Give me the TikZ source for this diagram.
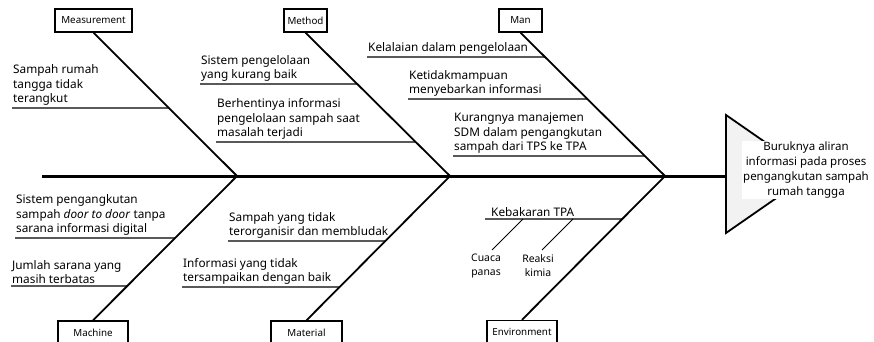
\documentclass[tikz,border=0pt]{standalone}
\usepackage{fontspec}
\setmainfont{Noto Sans}

\begin{document}
\begin{tikzpicture}[x=1pt,y=-1pt,
  catBox/.style={draw,line width=1.4pt,minimum height=23pt,inner sep=0pt,font=\fontsize{9.8}{11}\selectfont},
  causeText/.style={anchor=south west,align=left,inner xsep=1pt,inner ysep=2pt,font=\fontsize{11.8}{14.5}\selectfont},
  bone/.style={line width=1.8pt},
  twig/.style={line width=1.2pt}]
\useasboundingbox (0,0) rectangle (874,341);
% head of the fish
\coordinate (headTop) at (726,115);
\coordinate (headBot) at (726,233);
\coordinate (headTip) at (811,174);
\draw[line width=1.8pt,fill=black!5] (headTop) -- (headTip) -- (headBot) -- cycle;
\node[fill=white,align=center,inner sep=1pt,font=\fontsize{11.5}{15}\selectfont] (effect) at (806,170) {Buruknya aliran\\informasi pada proses\\pengangkutan sampah\\rumah tangga};
% spine
\coordinate (tail) at (42,176);
\coordinate (neck) at (726,176);
\coordinate (jA) at (237,176);
\coordinate (jB) at (450,176);
\coordinate (jC) at (665,176);
\draw[line width=3pt] (tail) -- (neck);
% categories
\node[catBox,minimum width=77pt] (measurement) at (93.5,20.5) {Measurement};
\node[catBox,minimum width=43pt] (method) at (305.5,20.5) {Method};
\node[catBox,minimum width=43pt] (man) at (520.5,20.5) {Man};
\node[catBox,minimum width=70pt] (machine) at (93,332.5) {Machine};
\node[catBox,minimum width=71pt] (material) at (306.5,332.5) {Material};
\node[catBox,minimum width=70pt] (environment) at (522,332) {Environment};
\draw[bone] (measurement.south) -- (jA);
\draw[bone] (method.south) -- (jB);
\draw[bone] (man.south) -- (jC);
\draw[bone] (machine.north) -- (jA);
\draw[bone] (material.north) -- (jB);
\draw[bone] (environment.north) -- (jC);
% measurement
\node[causeText] (measA) at (12,108) {Sampah rumah\\tangga tidak\\terangkut};
\draw[twig] (measA.south west) -- (intersection of measA.south west--measA.south east and measurement.south--jA);
% method
\node[causeText] (methA) at (200,84) {Sistem pengelolaan\\yang kurang baik};
\node[causeText] (methB) at (216,142) {Berhentinya informasi\\pengelolaan sampah saat\\masalah terjadi};
\draw[twig] (methA.south west) -- (intersection of methA.south west--methA.south east and method.south--jB);
\draw[twig] (methB.south west) -- (intersection of methB.south west--methB.south east and method.south--jB);
% man
\node[causeText] (manA) at (367,57) {Kelalaian dalam pengelolaan};
\node[causeText] (manB) at (408,99) {Ketidakmampuan\\menyebarkan informasi};
\node[causeText] (manC) at (453,156) {Kurangnya manajemen\\SDM dalam pengangkutan\\sampah dari TPS ke TPA};
\draw[twig] (manA.south west) -- (intersection of manA.south west--manA.south east and man.south--jC);
\draw[twig] (manB.south west) -- (intersection of manB.south west--manB.south east and man.south--jC);
\draw[twig] (manC.south west) -- (intersection of manC.south west--manC.south east and man.south--jC);
% machine
\node[causeText] (machA) at (15,238) {Sistem pengangkutan\\sampah \textit{door to door} tanpa\\sarana informasi digital};
\node[causeText] (machB) at (11,286) {Jumlah sarana yang\\masih terbatas};
\draw[twig] (machA.south west) -- (intersection of machA.south west--machA.south east and machine.north--jA);
\draw[twig] (machB.south west) -- (intersection of machB.south west--machB.south east and machine.north--jA);
% material
\node[causeText] (matA) at (228,241) {Sampah yang tidak\\terorganisir dan membludak};
\node[causeText] (matB) at (182,287) {Informasi yang tidak\\tersampaikan dengan baik};
\draw[twig] (matA.south west) -- (intersection of matA.south west--matA.south east and material.north--jB);
\draw[twig] (matB.south west) -- (intersection of matB.south west--matB.south east and material.north--jB);
% environment
\node[causeText,inner xsep=6pt] (envA) at (485,219) {Kebakaran TPA};
\draw[twig] (envA.south west) -- (intersection of envA.south west--envA.south east and environment.north--jC);
\node[align=center,font=\fontsize{10.4}{14}\selectfont] (cuaca) at (486,266) {Cuaca\\panas};
\node[align=center,font=\fontsize{10.4}{14}\selectfont] (reaksi) at (538,266) {Reaksi\\kimia};
\coordinate (cuacaTop) at (523,219);
\coordinate (cuacaEnd) at (492,250);
\coordinate (reaksiTop) at (573,219);
\coordinate (reaksiEnd) at (542,250);
\draw[line width=0.9pt] (cuacaTop) -- (cuacaEnd);
\draw[line width=0.9pt] (reaksiTop) -- (reaksiEnd);
\end{tikzpicture}
\end{document}
